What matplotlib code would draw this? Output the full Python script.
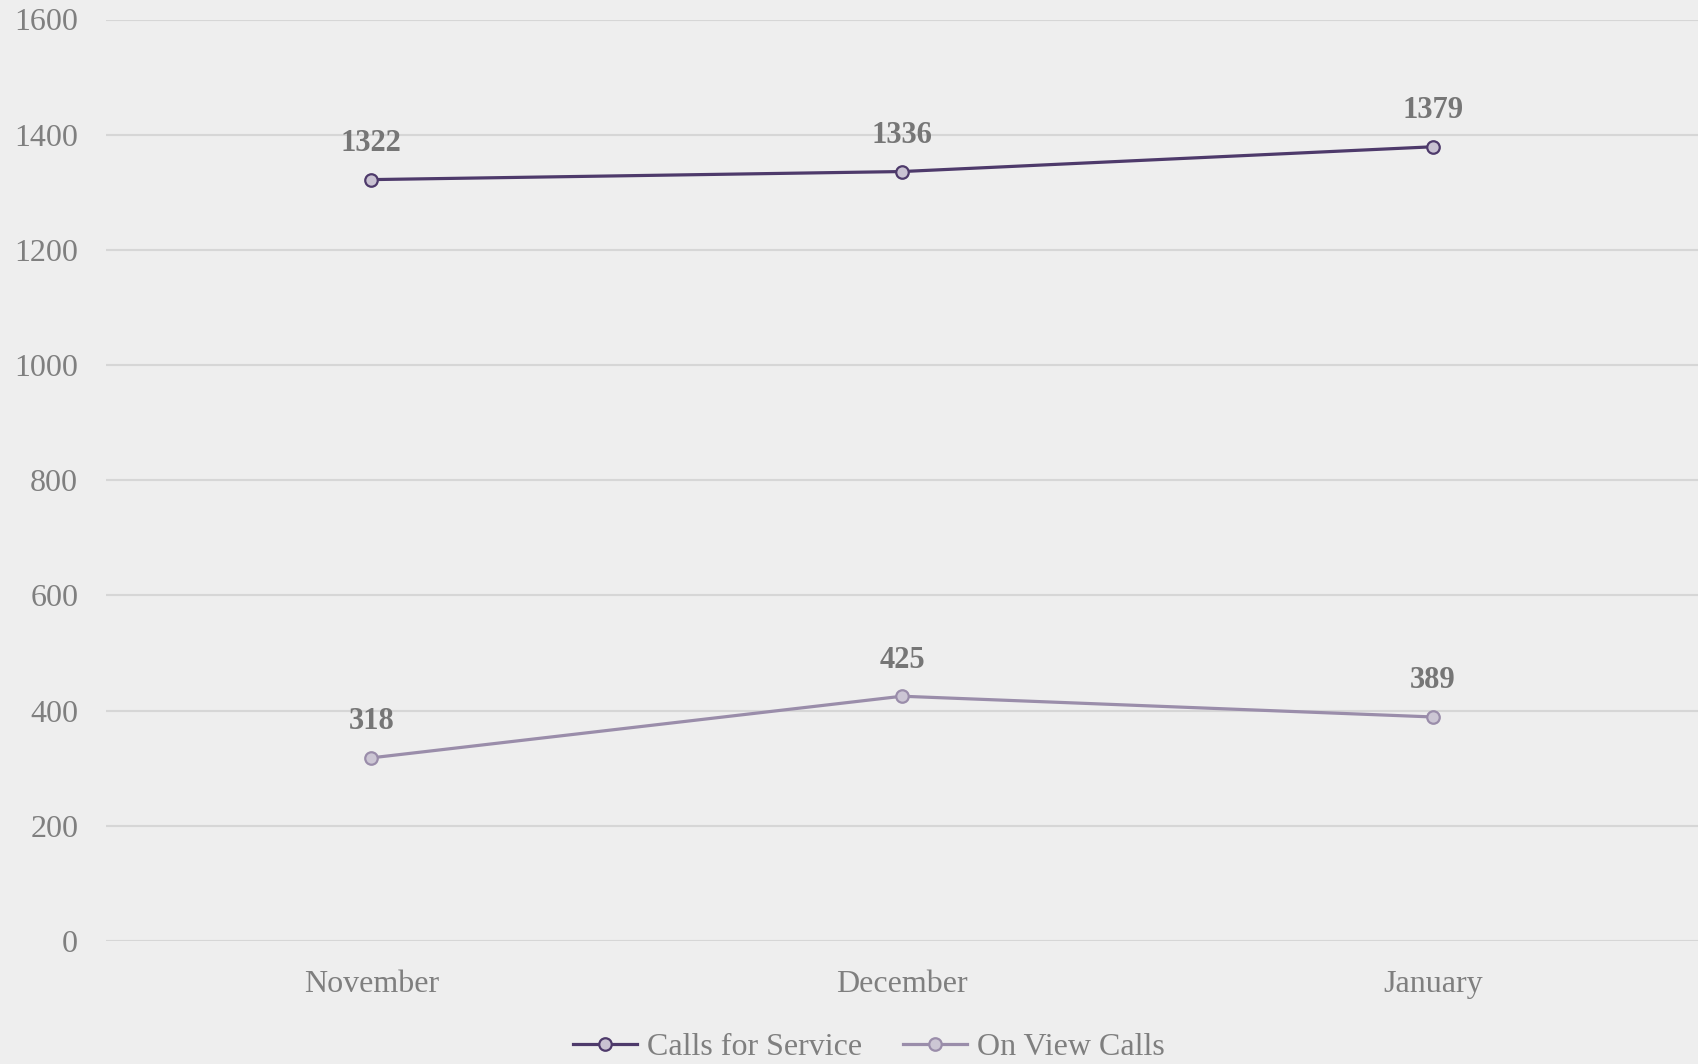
import matplotlib
matplotlib.use("Agg")
import matplotlib.pyplot as plt

months = ["November", "December", "January"]
calls_for_service = [1322, 1336, 1379]
on_view_calls = [318, 425, 389]
yticks = [0, 200, 400, 600, 800, 1000, 1200, 1400, 1600]

plt.rcParams['font.family'] = ['Liberation Serif', 'DejaVu Serif']

W, H = 1698, 1064
fig = plt.figure(figsize=(W/100, H/100), dpi=100)
fig.patch.set_facecolor('#EEEEEE')
ax = fig.add_axes([106/W, 1-941/H, 1-106/W, (941-19.5)/H])
ax.set_facecolor('#EEEEEE')

x = list(range(len(months)))
series = [
    ("Calls for Service", calls_for_service, '#4E3A6B', '#C9C2D2'),
    ("On View Calls", on_view_calls, '#9A8DAA', '#CCC6D4'),
]
for name, vals, lc, fc in series:
    ax.plot(x, vals, color=lc, lw=2.3, marker='o', markersize=9,
            markerfacecolor=fc, markeredgecolor=lc, markeredgewidth=1.6,
            label=name, zorder=3)
    for xi, v in zip(x, vals):
        ax.annotate(str(v), (xi, v), xytext=(0, 26), textcoords='offset points',
                    ha='center', va='center', fontsize=22, fontweight='bold',
                    color='#767676', zorder=4)

ax.set_xlim(-0.5, 2.5)
ax.set_ylim(0, 1600)
ax.set_yticks(yticks)
ax.set_xticks(x)
ax.set_xticklabels(months)
ax.grid(axis='y', color='#D6D6D6', lw=1.5, zorder=0)
ax.set_axisbelow(True)
for s in ax.spines.values():
    s.set_visible(False)
ax.tick_params(axis='both', length=0, labelsize=23, colors='#7F7F7F')
ax.tick_params(axis='y', pad=20)
ax.tick_params(axis='x', pad=21)

fig.legend(loc='center', bbox_to_anchor=(869/W, 1-1047/H), ncol=2, frameon=False,
           fontsize=23, labelcolor='#7F7F7F', handlelength=2.0, columnspacing=1.3,
           handletextpad=0.3)

fig.savefig("out.png", dpi=100, facecolor=fig.get_facecolor())
